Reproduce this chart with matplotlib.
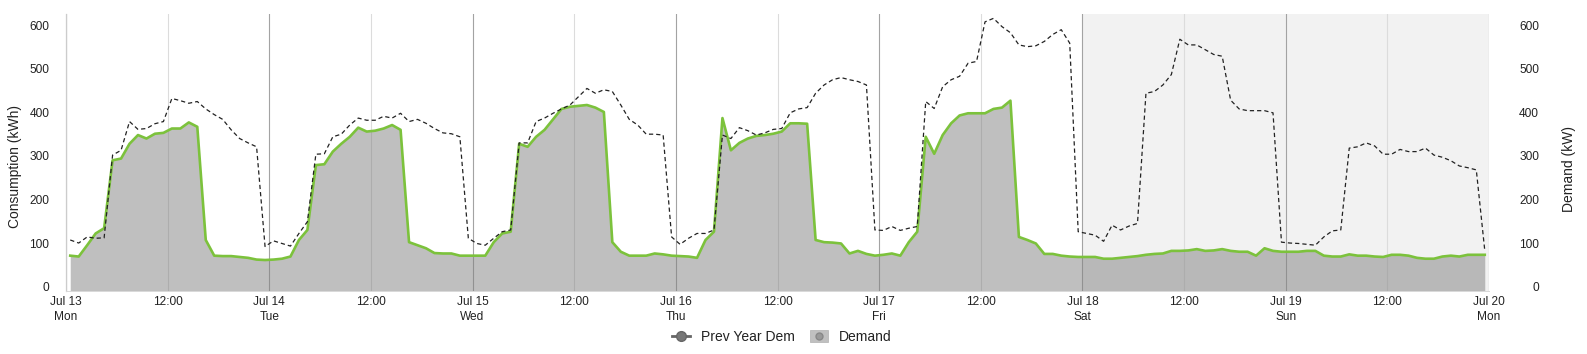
import numpy as np
import matplotlib

matplotlib.use("Agg")
import matplotlib.pyplot as plt  # noqa: E402
from matplotlib.lines import Line2D  # noqa: E402
from matplotlib.patches import Patch  # noqa: E402
from matplotlib.legend_handler import HandlerTuple  # noqa: E402

plt.rcParams["font.family"] = ["Liberation Sans", "DejaVu Sans"]

# ── Data (hourly, Jul 13 – Jul 19) ────────────────────────────────────────────

DAY_LABELS = ["Jul 13", "Jul 14", "Jul 15", "Jul 16", "Jul 17", "Jul 18", "Jul 19", "Jul 20"]
WEEKDAYS = ["Mon", "Tue", "Wed", "Thu", "Fri", "Sat", "Sun", "Mon"]
NOON_LABEL = "12:00"

demand_jul13 = [71, 69, 95, 122, 134, 290, 294, 328, 348, 340, 351, 353,
                363, 363, 377, 367, 107, 71, 70, 70, 68, 66, 62, 61]
demand_jul14 = [62, 64, 69, 107, 130, 279, 281, 310, 328, 344, 365, 356,
                358, 363, 371, 360, 102, 95, 88, 77, 76, 76, 71, 71]
demand_jul15 = [71, 71, 102, 122, 126, 328, 321, 344, 360, 384, 408, 413,
                415, 417, 411, 401, 102, 80, 71, 71, 71, 76, 74, 71]
demand_jul16 = [70, 69, 66, 107, 126, 387, 313, 330, 340, 346, 348, 351,
                356, 375, 375, 374, 107, 102, 101, 99, 76, 82, 75, 71]
demand_jul17 = [73, 76, 71, 102, 126, 344, 305, 348, 375, 393, 398, 398,
                398, 408, 411, 427, 114, 107, 99, 75, 75, 71, 69, 68]
demand_jul18 = [68, 68, 64, 64, 66, 68, 70, 73, 75, 76, 82, 82,
                83, 86, 82, 83, 86, 82, 80, 80, 71, 88, 82, 80]
demand_jul19 = [80, 80, 82, 82, 71, 69, 69, 74, 71, 71, 69, 68,
                73, 73, 71, 66, 64, 64, 69, 71, 69, 73, 73, 73]

prev_jul13 = [107, 100, 114, 111, 112, 302, 313, 379, 361, 363, 374, 379,
              432, 427, 421, 425, 408, 395, 384, 360, 340, 330, 321, 92]
prev_jul14 = [105, 99, 93, 122, 149, 304, 305, 344, 350, 371, 387, 382,
              382, 391, 387, 398, 379, 384, 375, 363, 353, 351, 344, 111]
prev_jul15 = [99, 95, 111, 126, 130, 330, 330, 379, 387, 398, 408, 417,
              436, 455, 444, 452, 448, 417, 384, 371, 350, 350, 348, 114]
prev_jul16 = [97, 111, 122, 122, 130, 348, 340, 365, 358, 348, 353, 361,
              363, 399, 408, 411, 444, 463, 475, 480, 475, 471, 463, 130]
prev_jul17 = [129, 138, 129, 134, 138, 425, 409, 459, 475, 483, 513, 517,
              608, 616, 597, 583, 555, 551, 553, 563, 579, 590, 559, 126]
prev_jul18 = [122, 118, 104, 141, 130, 139, 145, 444, 448, 463, 487, 568,
              555, 555, 544, 533, 529, 428, 408, 404, 404, 404, 399, 102]
prev_jul19 = [100, 99, 97, 95, 114, 128, 130, 318, 321, 330, 323, 304,
              304, 315, 310, 310, 318, 302, 297, 289, 277, 273, 268, 83]

demand = np.concatenate([demand_jul13, demand_jul14, demand_jul15, demand_jul16,
                         demand_jul17, demand_jul18, demand_jul19])
prev_year = np.concatenate([prev_jul13, prev_jul14, prev_jul15, prev_jul16,
                            prev_jul17, prev_jul18, prev_jul19])
hours = np.arange(len(demand)) + 0.5  # hourly values plotted mid-hour

WEEKEND_START, WEEKEND_END = 120, 168
Y_MIN, Y_MAX = -9, 626

# ── Figure ─────────────────────────────────────────────────────────────────────

fig = plt.figure(figsize=(15.87, 3.54), dpi=100)
ax = fig.add_axes([66 / 1587, 1 - 290.5 / 354, 1423 / 1587, 276.5 / 354])

ax.set_xlim(0, 168)
ax.set_ylim(Y_MIN, Y_MAX)

ax.axvspan(WEEKEND_START, WEEKEND_END, color="#f2f2f2", lw=0, zorder=0)

tick_pos = np.arange(0, 169, 12)
tick_lab = []
for i, t in enumerate(tick_pos):
    if i % 2 == 0:
        tick_lab.append(f"{DAY_LABELS[i // 2]}\n{WEEKDAYS[i // 2]}")
        ax.axvline(t, color="#a3a3a3", lw=0.8, zorder=1)
    else:
        tick_lab.append(NOON_LABEL)
        ax.axvline(t, color="#dcdcdc", lw=0.8, zorder=1)

ax.fill_between(hours, demand, Y_MIN, color="#808080", alpha=0.5, lw=0, zorder=2)
ax.plot(hours, demand, color="#7cc23c", lw=1.9, zorder=4, solid_joinstyle="round")
ax.plot(hours, prev_year, color="#222222", lw=0.9, dashes=(3.4, 2.4), zorder=5)

ax.set_xticks(tick_pos)
ax.set_xticklabels(tick_lab, fontsize=8.6, color="#222222", linespacing=1.3)
ax.tick_params(axis="x", length=0, pad=4)

ax.set_yticks(range(0, 601, 100))
ax.tick_params(axis="y", length=0, pad=12, labelsize=8.6, labelcolor="#222222")

for side in ("top", "right"):
    ax.spines[side].set_visible(False)
ax.spines["left"].set_color("#cccccc")
ax.spines["bottom"].set_color("#d8d8d8")
ax.spines["left"].set_linewidth(0.9)
ax.spines["bottom"].set_linewidth(0.7)

ax.set_ylabel("Consumption (kWh)", fontsize=10, color="#222222")
ax.yaxis.set_label_coords(-0.031, 0.45)

ax2 = ax.twinx()
ax2.set_position(ax.get_position())
ax2.set_ylim(Y_MIN, Y_MAX)
ax2.set_yticks(range(0, 601, 100))
ax2.tick_params(axis="y", length=0, pad=36, labelsize=8.6, labelcolor="#222222")
for lbl in ax2.get_yticklabels():
    lbl.set_horizontalalignment("right")
for side in ax2.spines:
    ax2.spines[side].set_visible(False)
ax2.set_ylabel("Demand (kW)", fontsize=10, color="#222222")
ax2.yaxis.set_label_coords(1.0513, 0.44)

# ── Legend ─────────────────────────────────────────────────────────────────────

prev_handle = Line2D([0], [0], color="#666666", lw=2, marker="o", ms=7,
                     mfc="#777777", mec="#666666")
demand_handle = (Patch(fc="#c0c0c0", ec="#b0b0b0", lw=0.5),
                 Line2D([0], [0], lw=0, marker="o", ms=5, mfc="#999999", mec="#888888"))
fig.legend([prev_handle, demand_handle], ["Prev Year Dem", "Demand"],
           handler_map={tuple: HandlerTuple(ndivide=1)},
           loc="center", bbox_to_anchor=(0.4925, 0.048), ncol=2, frameon=False,
           fontsize=10, handlelength=1.3, handleheight=1.0, handletextpad=0.8,
           columnspacing=1.1, labelcolor="#222222")

fig.savefig("out.png", dpi=100)
plt.close(fig)
